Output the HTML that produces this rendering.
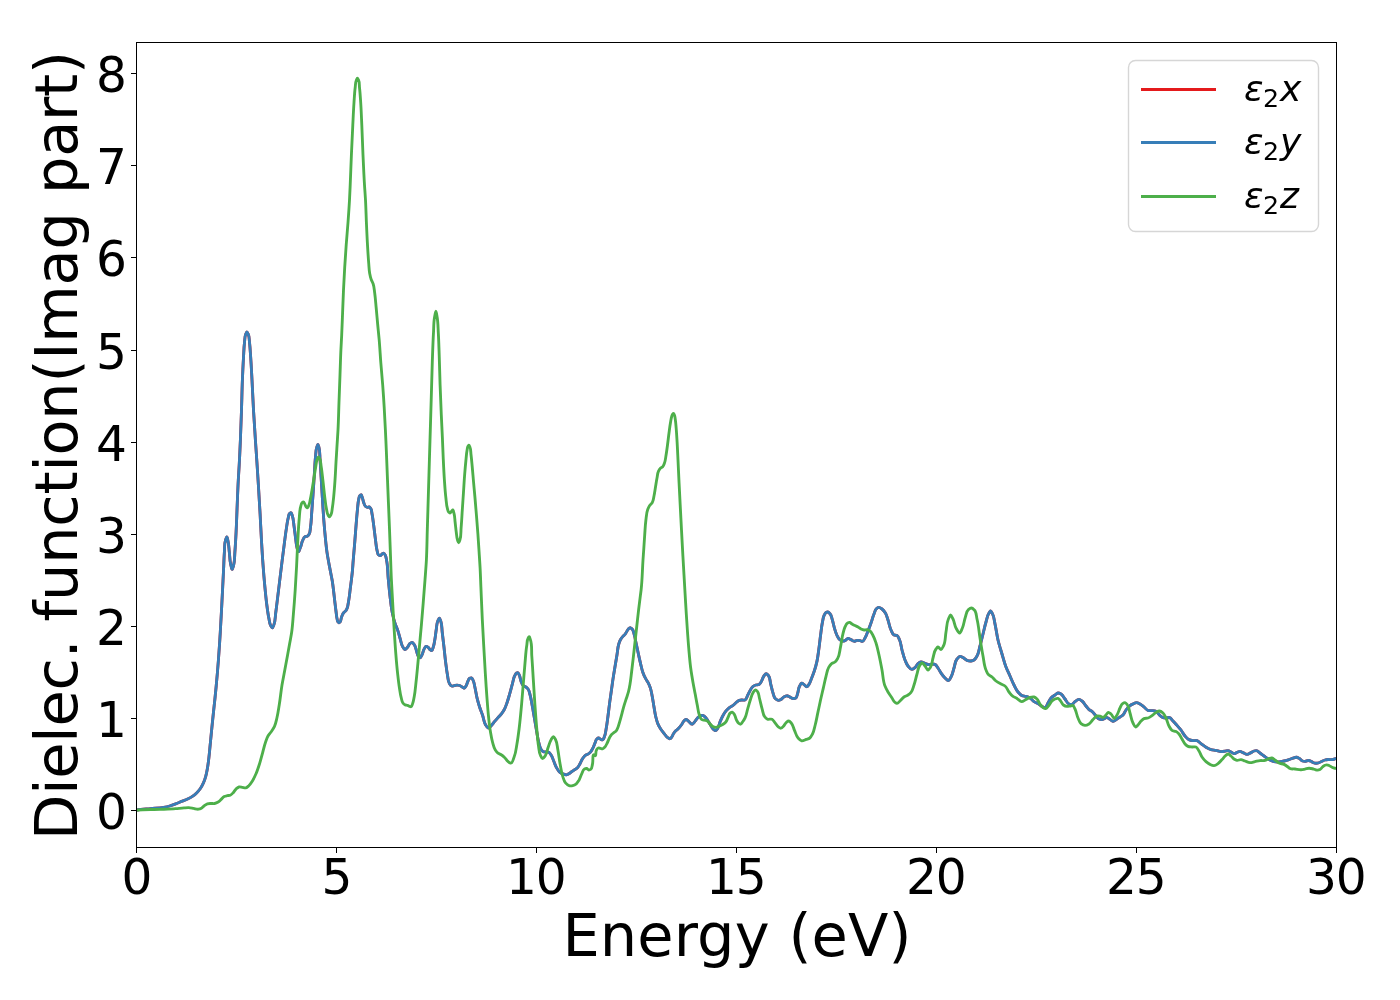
<!DOCTYPE html>
<html><head><meta charset="utf-8"><title>Dielectric function</title>
<style>
html,body{margin:0;padding:0;background:#fff;}
body{width:1400px;height:1000px;overflow:hidden;}
svg{display:block;}
text{font-family:'DejaVu Sans','Liberation Sans',sans-serif;fill:#000;}
.xt{font-size:48.6px;text-anchor:middle;}
.yt{font-size:48.6px;text-anchor:end;}
.lab{font-size:59.0px;text-anchor:middle;}
.leg{font-size:36.1px;}
.it{font-style:italic;}
.sub{font-size:25.3px;}
</style></head><body>
<svg width="1400" height="1000" viewBox="0 0 1400 1000">
<rect width="1400" height="1000" fill="#fff"/>
<defs><clipPath id="ax"><rect x="136.5" y="42.5" width="1200.0" height="805.0"/></clipPath></defs>
<g clip-path="url(#ax)" fill="none" stroke-width="2.85" stroke-linejoin="round" stroke-linecap="butt">
<path stroke="#e41a1c" d="M136.50,810.20C136.73,810.13 136.97,810.06 137.20,810.00C141.46,808.82 146.00,809.03 150.40,808.60C154.80,808.17 159.27,808.21 163.60,807.40C165.61,807.02 167.64,806.58 169.60,806.00C171.64,805.39 173.61,804.56 175.60,803.80C177.61,803.03 179.60,802.20 181.60,801.40C183.60,800.60 185.66,799.92 187.60,799.00C189.24,798.22 190.89,797.41 192.40,796.40C193.89,795.40 195.31,794.25 196.60,793.00C197.92,791.72 199.14,790.30 200.20,788.80C201.38,787.12 202.34,785.26 203.20,783.40C204.18,781.28 204.94,779.04 205.60,776.80C206.41,774.06 206.89,771.22 207.40,768.40C208.05,764.83 208.47,761.21 208.90,757.60C209.38,753.61 209.70,749.60 210.10,745.60C210.50,741.57 210.90,737.53 211.30,733.50C211.70,729.50 212.09,725.50 212.50,721.50C212.86,718.00 213.23,714.50 213.60,711.00C214.03,707.00 214.48,703.00 214.90,699.00C215.35,694.67 215.79,690.34 216.20,686.00C217.06,677.01 217.82,668.01 218.50,659.00C219.18,650.01 219.75,641.00 220.30,632.00C220.77,624.20 221.19,616.40 221.60,608.60C221.98,601.40 222.34,594.20 222.70,587.00C223.00,581.00 223.31,575.00 223.60,569.00C223.87,563.33 223.98,557.66 224.40,552.00C224.69,548.03 224.22,543.84 225.50,540.10C225.86,539.05 226.42,537.09 226.80,537.00C227.28,536.88 227.66,539.65 228.00,541.00C228.87,544.51 228.88,548.20 229.30,551.80C229.79,556.00 229.70,560.31 230.70,564.40C231.11,566.08 231.67,569.54 232.20,569.40C232.64,569.28 233.21,566.68 233.60,565.30C234.81,560.97 234.53,556.31 234.90,551.80C235.44,545.21 235.76,538.60 236.10,532.00C236.57,523.01 236.82,514.00 237.20,505.00C237.55,496.67 237.85,488.33 238.30,480.00C238.57,475.00 238.92,470.00 239.20,465.00C239.66,456.67 240.04,448.34 240.40,440.00C240.83,430.00 241.17,420.00 241.50,410.00C241.83,400.00 241.99,390.00 242.40,380.00C242.71,372.50 243.05,365.00 243.50,357.50C243.80,352.50 243.91,347.47 244.50,342.50C244.82,339.76 244.63,336.82 245.70,334.30C246.03,333.51 246.48,332.03 246.90,332.00C247.34,331.97 247.92,333.50 248.30,334.30C249.48,336.75 249.16,339.76 249.50,342.50C250.11,347.48 250.34,352.50 250.70,357.50C251.23,364.99 251.59,372.50 252.00,380.00C252.54,390.00 252.93,400.00 253.50,410.00C254.07,420.00 254.74,430.00 255.40,440.00C255.89,447.33 256.41,454.67 256.90,462.00C257.45,470.33 257.99,478.67 258.50,487.00C259.06,496.00 259.60,505.00 260.10,514.00C260.60,523.00 260.97,532.00 261.50,541.00C261.96,548.80 262.42,556.61 263.00,564.40C263.53,571.60 264.11,578.81 264.80,586.00C265.37,592.01 265.91,598.02 266.70,604.00C267.33,608.81 267.87,613.66 268.90,618.40C269.42,620.82 269.47,623.49 270.70,625.60C271.15,626.37 271.82,627.74 272.30,627.80C272.92,627.88 273.45,625.76 273.90,624.70C275.43,621.10 275.15,616.91 275.70,613.00C276.37,608.21 276.91,603.40 277.50,598.60C278.24,592.60 278.97,586.60 279.70,580.60C280.43,574.60 281.15,568.60 281.90,562.60C282.65,556.60 283.41,550.60 284.20,544.60C284.91,539.20 285.54,533.78 286.40,528.40C286.98,524.79 287.31,521.11 288.30,517.60C288.68,516.25 288.64,514.54 289.60,513.60C289.96,513.25 290.54,512.75 290.90,512.70C291.68,512.59 291.90,514.75 292.30,515.80C293.59,519.19 293.56,522.99 294.10,526.60C294.71,530.72 295.10,534.88 295.70,539.00C296.16,542.17 296.21,545.46 297.20,548.50C297.54,549.55 297.96,551.42 298.40,551.60C299.00,551.84 299.81,548.90 300.40,547.50C301.32,545.31 301.59,542.84 302.60,540.70C303.25,539.32 303.65,537.37 304.90,536.70C305.54,536.36 306.54,536.55 307.20,536.20C307.92,535.82 308.51,535.06 309.00,534.40C310.42,532.50 310.10,529.61 310.50,527.20C311.29,522.46 311.32,517.60 311.70,512.80C312.17,506.80 312.59,500.80 313.00,494.80C313.46,488.20 313.86,481.60 314.30,475.00C314.70,469.00 314.85,462.98 315.50,457.00C315.86,453.69 315.73,450.23 316.80,447.10C317.11,446.19 317.55,444.39 317.90,444.40C318.25,444.41 318.61,446.19 318.90,447.10C320.06,450.82 319.68,454.90 320.00,458.80C320.49,464.79 320.74,470.80 321.10,476.80C321.54,484.00 321.95,491.20 322.40,498.40C322.85,505.60 323.25,512.81 323.80,520.00C324.22,525.40 324.67,530.81 325.20,536.20C325.73,541.61 326.21,547.03 327.00,552.40C327.62,556.62 328.42,560.81 329.20,565.00C329.62,567.27 330.06,569.53 330.50,571.80C331.06,574.70 331.71,577.59 332.20,580.50C332.78,583.98 333.17,587.50 333.60,591.00C334.03,594.50 334.38,598.00 334.80,601.50C335.22,605.00 335.63,608.51 336.10,612.00C336.42,614.34 336.50,616.73 337.10,619.00C337.38,620.05 337.38,621.34 338.10,622.10C338.35,622.37 338.70,622.77 339.00,622.80C339.41,622.84 339.88,622.18 340.20,621.80C340.95,620.91 340.84,619.46 341.20,618.30C341.57,617.12 341.84,615.89 342.40,614.80C342.86,613.91 343.44,613.06 344.10,612.30C344.64,611.68 345.40,611.24 345.90,610.60C346.53,609.79 346.93,608.77 347.30,607.80C347.89,606.25 348.00,604.54 348.30,602.90C348.73,600.58 349.07,598.24 349.40,595.90C349.79,593.11 350.05,590.30 350.40,587.50C350.75,584.70 351.16,581.90 351.50,579.10C351.87,576.07 352.23,573.04 352.50,570.00C352.70,567.74 352.83,565.47 353.00,563.20C353.55,556.00 354.22,548.80 354.80,541.60C355.28,535.60 355.69,529.60 356.20,523.60C356.61,518.80 356.98,513.99 357.50,509.20C357.86,505.90 357.89,502.51 358.70,499.30C359.01,498.09 358.97,496.56 359.80,495.70C360.15,495.34 360.74,494.83 361.10,494.80C361.77,494.75 361.95,496.58 362.30,497.50C362.97,499.24 363.10,501.18 363.80,502.90C364.30,504.14 364.60,505.70 365.60,506.50C366.10,506.90 366.77,507.33 367.40,507.40C367.98,507.46 368.67,506.86 369.20,507.00C369.75,507.14 370.21,507.82 370.60,508.30C371.73,509.70 371.60,511.89 372.00,513.70C372.85,517.54 373.17,521.50 373.70,525.40C374.35,530.19 374.84,535.01 375.50,539.80C376.00,543.40 376.09,547.12 377.10,550.60C377.54,552.12 377.43,554.43 378.70,555.10C379.19,555.36 379.97,555.60 380.50,555.50C381.22,555.36 381.59,554.19 382.30,553.80C382.73,553.57 383.29,553.25 383.70,553.30C384.34,553.37 384.79,554.45 385.20,555.10C386.18,556.64 386.20,558.69 386.60,560.50C387.84,566.21 387.64,572.17 388.20,578.00C388.77,584.00 389.29,590.01 390.00,596.00C390.64,601.41 391.12,606.87 392.20,612.20C392.94,615.83 393.76,619.48 394.90,623.00C395.79,625.75 397.09,628.36 398.00,631.10C398.88,633.76 399.51,636.51 400.30,639.20C401.01,641.61 401.26,644.25 402.50,646.40C403.13,647.50 403.91,649.44 404.80,649.50C405.60,649.56 406.72,648.14 407.50,647.30C408.45,646.27 408.75,644.60 409.80,643.70C410.43,643.16 411.33,642.37 412.00,642.40C412.82,642.44 413.59,643.79 414.20,644.60C415.52,646.35 415.73,648.80 416.50,650.90C417.23,652.87 417.15,655.49 418.70,656.80C419.11,657.15 419.69,657.66 420.10,657.70C420.90,657.78 421.38,655.94 421.90,655.00C422.92,653.18 423.06,650.90 424.10,649.10C424.65,648.15 425.14,646.53 426.00,646.40C426.62,646.30 427.58,646.85 428.20,647.30C428.97,647.85 429.24,649.03 430.00,649.60C430.52,649.99 431.32,650.53 431.80,650.50C432.63,650.44 432.80,648.39 433.20,647.30C434.15,644.72 434.42,641.91 434.90,639.20C435.49,635.92 435.78,632.59 436.30,629.30C436.73,626.59 436.64,623.69 437.70,621.20C438.16,620.13 438.87,618.06 439.40,618.10C439.91,618.14 440.41,620.14 440.80,621.20C442.05,624.58 441.75,628.40 442.20,632.00C442.80,636.80 443.35,641.60 443.90,646.40C444.52,651.80 445.01,657.21 445.70,662.60C446.24,666.81 446.71,671.04 447.50,675.20C448.02,677.92 447.86,681.02 449.30,683.30C449.91,684.28 450.61,685.71 451.60,686.00C452.37,686.23 453.40,685.75 454.30,685.60C455.20,685.45 456.10,685.12 457.00,685.10C457.90,685.08 458.86,685.20 459.70,685.50C460.53,685.80 461.23,686.44 462.00,686.90C462.73,687.34 463.56,688.28 464.20,688.20C464.91,688.11 465.49,686.79 466.00,686.00C466.87,684.66 467.09,682.95 467.80,681.50C468.34,680.40 468.60,678.83 469.60,678.30C470.10,678.03 470.89,677.80 471.40,677.90C472.29,678.08 472.70,679.65 473.20,680.60C474.34,682.76 474.44,685.39 475.00,687.80C475.83,691.38 476.31,695.04 477.20,698.60C477.88,701.32 478.64,704.03 479.50,706.70C480.40,709.50 481.56,712.21 482.50,715.00C483.54,718.11 483.75,721.62 485.40,724.40C486.16,725.67 487.00,727.98 488.10,728.00C488.89,728.01 489.98,726.89 490.80,726.20C492.25,724.98 493.17,723.17 494.40,721.70C495.57,720.31 496.79,718.96 498.00,717.60C499.19,716.26 500.51,715.02 501.60,713.60C502.59,712.31 503.52,710.93 504.30,709.50C505.45,707.40 506.19,705.07 507.00,702.80C508.05,699.85 508.84,696.81 509.70,693.80C510.64,690.51 511.48,687.19 512.40,683.90C513.15,681.20 513.36,678.24 514.70,675.80C515.22,674.86 515.59,673.59 516.50,673.10C516.88,672.89 517.43,672.66 517.80,672.70C518.51,672.78 518.80,674.14 519.20,674.90C520.21,676.82 520.20,679.18 521.00,681.20C521.61,682.75 521.98,684.69 523.20,685.70C523.93,686.31 525.09,686.44 525.90,687.00C526.78,687.61 527.59,688.44 528.20,689.30C529.27,690.81 529.48,692.88 530.00,694.70C531.02,698.22 531.51,701.89 532.20,705.50C533.00,709.69 533.68,713.90 534.40,718.10C535.18,722.60 535.87,727.11 536.70,731.60C537.42,735.51 537.88,739.49 539.00,743.30C539.62,745.43 539.89,747.86 541.20,749.60C541.81,750.41 542.51,751.43 543.40,751.80C544.20,752.13 545.27,751.81 546.20,751.90C547.07,751.98 548.06,751.94 548.80,752.30C549.80,752.79 550.44,754.04 551.10,755.00C552.38,756.86 552.90,759.20 553.80,761.30C554.70,763.40 555.38,765.62 556.50,767.60C557.29,768.99 558.06,770.51 559.20,771.60C560.21,772.56 561.50,773.36 562.80,773.90C563.93,774.37 565.24,774.91 566.40,774.80C567.65,774.68 568.86,773.70 570.00,773.00C571.27,772.22 572.37,771.15 573.60,770.30C574.77,769.49 576.19,768.96 577.20,768.00C578.34,766.91 579.08,765.38 579.90,764.00C580.93,762.27 581.47,760.25 582.60,758.60C583.39,757.46 584.19,756.20 585.30,755.40C586.09,754.83 587.16,754.62 588.00,754.10C588.98,753.49 589.94,752.75 590.70,751.90C591.72,750.75 592.31,749.20 593.00,747.80C593.76,746.25 594.31,744.59 595.00,743.00C595.58,741.66 595.74,739.91 596.80,739.00C597.30,738.57 598.01,738.02 598.60,738.00C599.35,737.97 600.01,739.07 600.80,739.40C601.37,739.64 602.10,739.97 602.60,739.90C603.58,739.76 603.90,737.81 604.40,736.70C605.52,734.20 605.68,731.32 606.20,728.60C606.99,724.44 607.43,720.20 608.00,716.00C608.64,711.21 609.16,706.39 609.80,701.60C610.37,697.40 611.00,693.20 611.60,689.00C612.20,684.80 612.75,680.59 613.40,676.40C613.96,672.79 614.60,669.20 615.20,665.60C615.80,662.00 616.40,658.40 617.00,654.80C617.60,651.20 617.68,647.45 618.80,644.00C619.30,642.47 619.80,640.89 620.60,639.50C621.24,638.40 622.06,637.37 622.90,636.40C623.61,635.59 624.52,634.94 625.20,634.10C626.08,633.02 626.57,631.63 627.40,630.50C627.96,629.74 628.41,628.76 629.20,628.30C629.61,628.06 630.17,627.77 630.60,627.80C631.24,627.84 631.83,628.67 632.30,629.20C633.42,630.46 633.59,632.44 634.10,634.10C634.92,636.74 635.31,639.50 635.90,642.20C636.68,645.80 637.42,649.40 638.20,653.00C638.92,656.30 639.61,659.61 640.40,662.90C641.12,665.91 641.67,668.99 642.70,671.90C643.46,674.05 644.34,676.18 645.40,678.20C646.21,679.75 647.30,681.15 648.10,682.70C648.99,684.44 649.78,686.25 650.40,688.10C651.28,690.71 651.66,693.49 652.20,696.20C652.91,699.78 653.37,703.40 654.00,707.00C654.58,710.30 654.98,713.65 655.80,716.90C656.41,719.33 656.99,721.82 658.00,724.10C658.75,725.80 659.68,727.44 660.70,729.00C661.63,730.43 662.76,731.74 663.80,733.10C664.73,734.31 665.49,735.68 666.60,736.70C667.16,737.21 667.74,737.75 668.40,738.10C668.90,738.36 669.51,738.77 670.00,738.70C670.56,738.62 671.06,737.88 671.50,737.40C672.49,736.33 672.77,734.71 673.60,733.50C674.31,732.47 675.12,731.49 676.00,730.60C676.74,729.85 677.65,729.25 678.40,728.50C679.62,727.29 680.68,725.89 681.70,724.50C682.67,723.18 683.10,721.32 684.40,720.40C684.93,720.02 685.63,719.54 686.20,719.50C687.18,719.44 688.01,720.89 688.90,721.60C689.95,722.45 691.00,724.19 692.00,724.20C693.10,724.21 694.22,722.21 695.20,721.10C696.19,719.98 696.80,718.49 697.90,717.50C698.69,716.79 699.60,715.97 700.60,715.70C701.43,715.47 702.49,715.45 703.30,715.70C704.36,716.03 705.20,717.14 706.00,718.00C707.09,719.17 707.83,720.64 708.70,722.00C709.64,723.47 710.42,725.05 711.40,726.50C712.12,727.56 712.70,728.83 713.70,729.60C714.23,730.01 714.95,730.59 715.50,730.60C716.35,730.61 717.09,729.14 717.70,728.30C718.99,726.53 719.16,724.07 720.00,722.00C720.80,720.04 721.59,718.06 722.60,716.20C723.54,714.47 724.55,712.72 725.80,711.20C726.87,709.89 728.06,708.63 729.40,707.60C730.51,706.75 731.87,706.23 733.00,705.40C734.29,704.46 735.33,703.18 736.60,702.20C737.47,701.53 738.29,700.65 739.30,700.30C740.13,700.01 741.10,700.05 742.00,700.00C743.00,699.94 744.18,700.31 745.00,700.00C746.48,699.44 746.84,696.89 747.70,695.30C748.65,693.53 749.32,691.59 750.40,689.90C751.20,688.64 751.93,687.17 753.10,686.30C753.88,685.72 754.86,685.30 755.80,685.00C756.82,684.68 758.12,684.99 759.00,684.50C759.95,683.97 760.55,682.75 761.20,681.80C762.39,680.05 762.60,677.65 763.90,676.00C764.56,675.16 765.39,673.69 766.20,673.70C766.90,673.71 767.79,674.82 768.40,675.50C770.20,677.51 769.89,680.89 770.60,683.60C771.39,686.59 771.92,689.67 772.90,692.60C773.57,694.60 773.76,697.11 775.20,698.50C776.02,699.29 777.21,700.25 778.30,700.30C779.16,700.34 780.18,699.84 781.00,699.40C782.02,698.85 782.70,697.71 783.70,697.10C784.65,696.52 785.76,695.81 786.80,695.80C787.86,695.79 788.94,696.65 790.00,697.10C791.07,697.55 792.09,698.42 793.20,698.50C794.04,698.56 795.12,698.40 795.80,698.00C797.04,697.27 797.07,695.02 797.60,693.50C798.41,691.16 798.33,688.45 799.50,686.30C800.09,685.20 800.78,683.30 801.70,683.20C802.47,683.11 803.53,684.29 804.40,684.90C805.19,685.46 805.97,686.72 806.70,686.70C807.48,686.67 808.27,685.30 808.90,684.50C810.29,682.73 810.75,680.32 811.60,678.20C812.56,675.82 813.50,673.43 814.30,671.00C815.37,667.76 816.28,664.44 817.00,661.10C817.83,657.25 818.25,653.31 818.80,649.40C819.47,644.61 819.96,639.79 820.60,635.00C821.17,630.80 821.53,626.55 822.40,622.40C822.91,619.98 823.06,617.36 824.20,615.20C824.70,614.25 825.12,613.01 826.00,612.50C826.51,612.20 827.25,611.94 827.80,612.00C828.64,612.08 829.39,613.11 830.00,613.80C831.37,615.33 831.63,617.70 832.30,619.70C833.28,622.63 833.69,625.74 834.60,628.70C835.26,630.82 835.84,633.01 836.80,635.00C837.56,636.57 838.20,638.41 839.50,639.50C840.26,640.14 841.24,640.84 842.20,641.00C843.08,641.15 844.14,640.92 845.00,640.60C846.13,640.18 846.92,638.49 848.00,638.40C848.94,638.32 850.02,639.15 851.00,639.60C852.03,640.08 852.95,641.10 854.00,641.20C854.96,641.29 855.98,640.50 857.00,640.40C857.98,640.31 859.03,640.40 860.00,640.60C860.82,640.77 861.71,641.48 862.40,641.40C863.57,641.26 864.24,639.20 865.00,638.00C866.35,635.87 867.05,633.35 868.00,631.00C869.06,628.36 870.05,625.68 871.00,623.00C872.06,620.02 872.80,616.92 874.00,614.00C874.73,612.24 875.04,610.05 876.40,608.80C877.02,608.23 877.84,607.52 878.60,607.40C879.69,607.22 881.00,608.29 882.00,609.00C883.40,609.99 884.48,611.54 885.40,613.00C886.70,615.08 887.20,617.65 888.00,620.00C889.12,623.29 889.49,626.89 891.00,630.00C891.84,631.74 892.41,634.18 894.00,635.00C894.84,635.43 896.18,635.15 897.00,635.60C898.37,636.36 898.89,638.47 899.60,640.00C901.03,643.08 901.11,646.69 902.00,650.00C902.91,653.36 903.66,656.80 905.00,660.00C905.86,662.06 906.61,664.31 908.00,666.00C909.09,667.32 910.57,669.49 912.00,669.40C912.96,669.34 914.12,668.34 915.00,667.60C916.25,666.55 916.72,664.61 918.00,663.60C918.87,662.92 919.97,662.13 921.00,662.00C922.29,661.84 923.66,662.96 925.00,663.40C926.32,663.83 927.65,664.59 929.00,664.60C929.99,664.61 930.99,664.03 932.00,664.00C932.99,663.97 934.14,664.01 935.00,664.40C936.33,665.00 937.09,666.74 938.00,668.00C939.14,669.57 939.90,671.40 941.00,673.00C942.21,674.75 943.45,676.56 945.00,678.00C946.04,678.97 947.41,680.73 948.40,680.60C949.42,680.47 950.26,678.27 951.00,677.00C952.58,674.30 953.00,671.00 954.00,668.00C955.00,665.00 955.02,661.35 957.00,659.00C957.83,658.02 958.87,656.52 960.00,656.40C960.92,656.30 962.05,657.11 963.00,657.60C964.44,658.34 965.52,659.85 967.00,660.40C968.23,660.86 969.70,661.15 971.00,661.00C972.02,660.88 973.14,660.53 974.00,660.00C975.36,659.16 976.17,657.42 977.00,656.00C978.74,653.04 979.07,649.35 980.00,646.00C981.10,642.03 982.00,638.00 983.00,634.00C984.00,630.00 984.83,625.95 986.00,622.00C986.90,618.97 987.23,615.58 989.00,613.00C989.48,612.30 990.09,611.05 990.60,611.00C991.23,610.93 991.88,612.70 992.40,613.60C994.17,616.66 994.22,620.52 995.00,624.00C996.19,629.29 996.74,634.73 998.00,640.00C999.13,644.72 1000.62,649.35 1002.00,654.00C1003.29,658.35 1004.37,662.78 1006.00,667.00C1007.18,670.06 1008.67,673.00 1010.00,676.00C1011.33,679.00 1012.50,682.08 1014.00,685.00C1015.22,687.39 1016.27,689.99 1018.00,692.00C1019.16,693.34 1020.42,694.88 1022.00,695.60C1023.19,696.14 1024.70,696.02 1026.00,696.40C1027.37,696.80 1028.78,697.28 1030.00,698.00C1031.52,698.90 1032.52,700.62 1034.00,701.60C1035.23,702.42 1036.72,702.84 1038.00,703.60C1039.40,704.43 1040.56,705.66 1042.00,706.40C1042.95,706.89 1044.15,707.68 1045.00,707.60C1046.44,707.46 1047.03,704.55 1048.00,703.00C1049.03,701.35 1049.70,699.40 1051.00,698.00C1052.11,696.80 1053.64,695.96 1055.00,695.00C1055.98,694.31 1056.93,693.11 1058.00,693.00C1058.94,692.90 1060.11,693.50 1061.00,694.00C1062.80,695.00 1063.67,697.33 1065.00,699.00C1066.33,700.67 1067.14,703.27 1069.00,704.00C1069.88,704.34 1071.11,704.62 1072.00,704.40C1073.20,704.11 1073.91,702.40 1075.00,701.60C1076.22,700.71 1077.66,699.30 1079.00,699.40C1080.00,699.47 1081.10,700.34 1082.00,701.00C1083.69,702.23 1084.65,704.35 1086.00,706.00C1086.99,707.21 1087.81,708.63 1089.00,709.60C1089.89,710.33 1091.09,710.70 1092.00,711.40C1093.59,712.62 1094.61,714.52 1096.00,716.00C1096.97,717.03 1097.78,718.42 1099.00,719.00C1099.88,719.42 1101.03,719.68 1102.00,719.60C1103.03,719.51 1104.08,718.95 1105.00,718.40C1105.49,718.11 1105.92,717.55 1106.40,717.40C1107.54,717.03 1108.83,718.68 1110.00,719.40C1111.02,720.03 1111.99,721.29 1113.00,721.40C1114.31,721.54 1115.69,719.84 1117.00,719.00C1118.01,718.35 1119.00,717.67 1120.00,717.00C1121.00,716.33 1122.15,715.81 1123.00,715.00C1124.38,713.70 1124.85,711.55 1126.00,710.00C1127.18,708.42 1128.40,706.73 1130.00,705.60C1130.91,704.96 1131.98,704.48 1133.00,704.00C1134.11,703.48 1135.26,702.62 1136.40,702.60C1137.60,702.58 1138.87,703.40 1140.00,704.00C1141.46,704.78 1142.70,705.96 1144.00,707.00C1145.37,708.09 1146.43,709.86 1148.00,710.40C1149.20,710.81 1150.68,710.44 1152.00,710.60C1153.35,710.77 1154.83,710.84 1156.00,711.40C1157.66,712.20 1158.50,714.40 1160.00,715.60C1160.93,716.34 1161.90,717.21 1163.00,717.60C1163.93,717.93 1165.00,717.98 1166.00,718.00C1167.20,718.03 1168.55,717.31 1169.60,717.60C1171.00,717.99 1171.89,719.84 1173.00,721.00C1174.37,722.43 1175.68,723.92 1177.00,725.40C1178.35,726.92 1179.76,728.39 1181.00,730.00C1182.47,731.90 1183.41,734.22 1185.00,736.00C1186.19,737.33 1187.44,738.83 1189.00,739.60C1190.20,740.19 1191.65,740.44 1193.00,740.60C1194.31,740.76 1195.79,740.24 1197.00,740.60C1198.52,741.04 1199.66,742.61 1201.00,743.60C1202.65,744.82 1204.24,746.16 1206.00,747.20C1207.59,748.13 1209.25,749.07 1211.00,749.60C1212.60,750.09 1214.35,750.07 1216.00,750.40C1217.68,750.73 1219.31,751.52 1221.00,751.60C1222.32,751.66 1223.68,751.41 1225.00,751.20C1226.01,751.04 1227.04,750.50 1228.00,750.60C1229.04,750.71 1230.01,751.51 1231.00,752.00C1232.01,752.51 1232.97,753.56 1234.00,753.60C1234.98,753.64 1235.99,752.77 1237.00,752.40C1237.99,752.04 1239.01,751.37 1240.00,751.40C1241.01,751.43 1242.01,752.18 1243.00,752.60C1244.35,753.17 1245.67,754.40 1247.00,754.40C1248.33,754.40 1249.69,753.25 1251.00,752.60C1252.01,752.10 1252.93,751.33 1254.00,751.00C1254.76,750.76 1255.65,750.52 1256.40,750.60C1257.74,750.74 1258.82,752.17 1260.00,753.00C1261.36,753.96 1262.65,755.03 1264.00,756.00C1265.64,757.17 1267.24,758.44 1269.00,759.40C1270.59,760.27 1272.26,761.17 1274.00,761.60C1275.60,761.99 1277.35,762.10 1279.00,762.00C1280.68,761.90 1282.35,761.40 1284.00,761.00C1285.68,760.60 1287.36,760.15 1289.00,759.60C1289.33,759.49 1289.67,759.37 1290.00,759.25C1291.01,758.89 1291.98,758.42 1293.00,758.10C1294.14,757.74 1295.36,757.12 1296.50,757.25C1297.35,757.35 1298.21,757.83 1299.00,758.25C1300.30,758.94 1301.14,760.54 1302.50,761.00C1303.27,761.26 1304.17,761.36 1305.00,761.35C1306.18,761.33 1307.34,760.42 1308.50,760.50C1309.34,760.56 1310.21,760.91 1311.00,761.25C1311.88,761.63 1312.60,762.42 1313.50,762.75C1314.28,763.04 1315.16,763.22 1316.00,763.25C1317.00,763.28 1318.04,763.05 1319.00,762.75C1320.05,762.42 1320.98,761.71 1322.00,761.25C1322.98,760.80 1323.96,760.29 1325.00,760.00C1325.97,759.73 1326.99,759.57 1328.00,759.50C1329.16,759.42 1330.34,759.74 1331.50,759.65C1332.34,759.59 1333.18,759.45 1334.00,759.25C1334.85,759.04 1335.67,758.68 1336.50,758.40"/>
<path stroke="#377eb8" d="M136.50,810.20C136.73,810.13 136.97,810.06 137.20,810.00C141.46,808.82 146.00,809.03 150.40,808.60C154.80,808.17 159.27,808.21 163.60,807.40C165.61,807.02 167.64,806.58 169.60,806.00C171.64,805.39 173.61,804.56 175.60,803.80C177.61,803.03 179.60,802.20 181.60,801.40C183.60,800.60 185.66,799.92 187.60,799.00C189.24,798.22 190.89,797.41 192.40,796.40C193.89,795.40 195.31,794.25 196.60,793.00C197.92,791.72 199.14,790.30 200.20,788.80C201.38,787.12 202.34,785.26 203.20,783.40C204.18,781.28 204.94,779.04 205.60,776.80C206.41,774.06 206.89,771.22 207.40,768.40C208.05,764.83 208.47,761.21 208.90,757.60C209.38,753.61 209.70,749.60 210.10,745.60C210.50,741.57 210.90,737.53 211.30,733.50C211.70,729.50 212.09,725.50 212.50,721.50C212.86,718.00 213.23,714.50 213.60,711.00C214.03,707.00 214.48,703.00 214.90,699.00C215.35,694.67 215.79,690.34 216.20,686.00C217.06,677.01 217.82,668.01 218.50,659.00C219.18,650.01 219.75,641.00 220.30,632.00C220.77,624.20 221.19,616.40 221.60,608.60C221.98,601.40 222.34,594.20 222.70,587.00C223.00,581.00 223.31,575.00 223.60,569.00C223.87,563.33 223.98,557.66 224.40,552.00C224.69,548.03 224.22,543.84 225.50,540.10C225.86,539.05 226.42,537.09 226.80,537.00C227.28,536.88 227.66,539.65 228.00,541.00C228.87,544.51 228.88,548.20 229.30,551.80C229.79,556.00 229.70,560.31 230.70,564.40C231.11,566.08 231.67,569.54 232.20,569.40C232.64,569.28 233.21,566.68 233.60,565.30C234.81,560.97 234.53,556.31 234.90,551.80C235.44,545.21 235.76,538.60 236.10,532.00C236.57,523.01 236.82,514.00 237.20,505.00C237.55,496.67 237.85,488.33 238.30,480.00C238.57,475.00 238.92,470.00 239.20,465.00C239.66,456.67 240.04,448.34 240.40,440.00C240.83,430.00 241.17,420.00 241.50,410.00C241.83,400.00 241.99,390.00 242.40,380.00C242.71,372.50 243.05,365.00 243.50,357.50C243.80,352.50 243.91,347.47 244.50,342.50C244.82,339.76 244.63,336.82 245.70,334.30C246.03,333.51 246.48,332.03 246.90,332.00C247.34,331.97 247.92,333.50 248.30,334.30C249.48,336.75 249.16,339.76 249.50,342.50C250.11,347.48 250.34,352.50 250.70,357.50C251.23,364.99 251.59,372.50 252.00,380.00C252.54,390.00 252.93,400.00 253.50,410.00C254.07,420.00 254.74,430.00 255.40,440.00C255.89,447.33 256.41,454.67 256.90,462.00C257.45,470.33 257.99,478.67 258.50,487.00C259.06,496.00 259.60,505.00 260.10,514.00C260.60,523.00 260.97,532.00 261.50,541.00C261.96,548.80 262.42,556.61 263.00,564.40C263.53,571.60 264.11,578.81 264.80,586.00C265.37,592.01 265.91,598.02 266.70,604.00C267.33,608.81 267.87,613.66 268.90,618.40C269.42,620.82 269.47,623.49 270.70,625.60C271.15,626.37 271.82,627.74 272.30,627.80C272.92,627.88 273.45,625.76 273.90,624.70C275.43,621.10 275.15,616.91 275.70,613.00C276.37,608.21 276.91,603.40 277.50,598.60C278.24,592.60 278.97,586.60 279.70,580.60C280.43,574.60 281.15,568.60 281.90,562.60C282.65,556.60 283.41,550.60 284.20,544.60C284.91,539.20 285.54,533.78 286.40,528.40C286.98,524.79 287.31,521.11 288.30,517.60C288.68,516.25 288.64,514.54 289.60,513.60C289.96,513.25 290.54,512.75 290.90,512.70C291.68,512.59 291.90,514.75 292.30,515.80C293.59,519.19 293.56,522.99 294.10,526.60C294.71,530.72 295.10,534.88 295.70,539.00C296.16,542.17 296.21,545.46 297.20,548.50C297.54,549.55 297.96,551.42 298.40,551.60C299.00,551.84 299.81,548.90 300.40,547.50C301.32,545.31 301.59,542.84 302.60,540.70C303.25,539.32 303.65,537.37 304.90,536.70C305.54,536.36 306.54,536.55 307.20,536.20C307.92,535.82 308.51,535.06 309.00,534.40C310.42,532.50 310.10,529.61 310.50,527.20C311.29,522.46 311.32,517.60 311.70,512.80C312.17,506.80 312.59,500.80 313.00,494.80C313.46,488.20 313.86,481.60 314.30,475.00C314.70,469.00 314.85,462.98 315.50,457.00C315.86,453.69 315.73,450.23 316.80,447.10C317.11,446.19 317.55,444.39 317.90,444.40C318.25,444.41 318.61,446.19 318.90,447.10C320.06,450.82 319.68,454.90 320.00,458.80C320.49,464.79 320.74,470.80 321.10,476.80C321.54,484.00 321.95,491.20 322.40,498.40C322.85,505.60 323.25,512.81 323.80,520.00C324.22,525.40 324.67,530.81 325.20,536.20C325.73,541.61 326.21,547.03 327.00,552.40C327.62,556.62 328.42,560.81 329.20,565.00C329.62,567.27 330.06,569.53 330.50,571.80C331.06,574.70 331.71,577.59 332.20,580.50C332.78,583.98 333.17,587.50 333.60,591.00C334.03,594.50 334.38,598.00 334.80,601.50C335.22,605.00 335.63,608.51 336.10,612.00C336.42,614.34 336.50,616.73 337.10,619.00C337.38,620.05 337.38,621.34 338.10,622.10C338.35,622.37 338.70,622.77 339.00,622.80C339.41,622.84 339.88,622.18 340.20,621.80C340.95,620.91 340.84,619.46 341.20,618.30C341.57,617.12 341.84,615.89 342.40,614.80C342.86,613.91 343.44,613.06 344.10,612.30C344.64,611.68 345.40,611.24 345.90,610.60C346.53,609.79 346.93,608.77 347.30,607.80C347.89,606.25 348.00,604.54 348.30,602.90C348.73,600.58 349.07,598.24 349.40,595.90C349.79,593.11 350.05,590.30 350.40,587.50C350.75,584.70 351.16,581.90 351.50,579.10C351.87,576.07 352.23,573.04 352.50,570.00C352.70,567.74 352.83,565.47 353.00,563.20C353.55,556.00 354.22,548.80 354.80,541.60C355.28,535.60 355.69,529.60 356.20,523.60C356.61,518.80 356.98,513.99 357.50,509.20C357.86,505.90 357.89,502.51 358.70,499.30C359.01,498.09 358.97,496.56 359.80,495.70C360.15,495.34 360.74,494.83 361.10,494.80C361.77,494.75 361.95,496.58 362.30,497.50C362.97,499.24 363.10,501.18 363.80,502.90C364.30,504.14 364.60,505.70 365.60,506.50C366.10,506.90 366.77,507.33 367.40,507.40C367.98,507.46 368.67,506.86 369.20,507.00C369.75,507.14 370.21,507.82 370.60,508.30C371.73,509.70 371.60,511.89 372.00,513.70C372.85,517.54 373.17,521.50 373.70,525.40C374.35,530.19 374.84,535.01 375.50,539.80C376.00,543.40 376.09,547.12 377.10,550.60C377.54,552.12 377.43,554.43 378.70,555.10C379.19,555.36 379.97,555.60 380.50,555.50C381.22,555.36 381.59,554.19 382.30,553.80C382.73,553.57 383.29,553.25 383.70,553.30C384.34,553.37 384.79,554.45 385.20,555.10C386.18,556.64 386.20,558.69 386.60,560.50C387.84,566.21 387.64,572.17 388.20,578.00C388.77,584.00 389.29,590.01 390.00,596.00C390.64,601.41 391.12,606.87 392.20,612.20C392.94,615.83 393.76,619.48 394.90,623.00C395.79,625.75 397.09,628.36 398.00,631.10C398.88,633.76 399.51,636.51 400.30,639.20C401.01,641.61 401.26,644.25 402.50,646.40C403.13,647.50 403.91,649.44 404.80,649.50C405.60,649.56 406.72,648.14 407.50,647.30C408.45,646.27 408.75,644.60 409.80,643.70C410.43,643.16 411.33,642.37 412.00,642.40C412.82,642.44 413.59,643.79 414.20,644.60C415.52,646.35 415.73,648.80 416.50,650.90C417.23,652.87 417.15,655.49 418.70,656.80C419.11,657.15 419.69,657.66 420.10,657.70C420.90,657.78 421.38,655.94 421.90,655.00C422.92,653.18 423.06,650.90 424.10,649.10C424.65,648.15 425.14,646.53 426.00,646.40C426.62,646.30 427.58,646.85 428.20,647.30C428.97,647.85 429.24,649.03 430.00,649.60C430.52,649.99 431.32,650.53 431.80,650.50C432.63,650.44 432.80,648.39 433.20,647.30C434.15,644.72 434.42,641.91 434.90,639.20C435.49,635.92 435.78,632.59 436.30,629.30C436.73,626.59 436.64,623.69 437.70,621.20C438.16,620.13 438.87,618.06 439.40,618.10C439.91,618.14 440.41,620.14 440.80,621.20C442.05,624.58 441.75,628.40 442.20,632.00C442.80,636.80 443.35,641.60 443.90,646.40C444.52,651.80 445.01,657.21 445.70,662.60C446.24,666.81 446.71,671.04 447.50,675.20C448.02,677.92 447.86,681.02 449.30,683.30C449.91,684.28 450.61,685.71 451.60,686.00C452.37,686.23 453.40,685.75 454.30,685.60C455.20,685.45 456.10,685.12 457.00,685.10C457.90,685.08 458.86,685.20 459.70,685.50C460.53,685.80 461.23,686.44 462.00,686.90C462.73,687.34 463.56,688.28 464.20,688.20C464.91,688.11 465.49,686.79 466.00,686.00C466.87,684.66 467.09,682.95 467.80,681.50C468.34,680.40 468.60,678.83 469.60,678.30C470.10,678.03 470.89,677.80 471.40,677.90C472.29,678.08 472.70,679.65 473.20,680.60C474.34,682.76 474.44,685.39 475.00,687.80C475.83,691.38 476.31,695.04 477.20,698.60C477.88,701.32 478.64,704.03 479.50,706.70C480.40,709.50 481.56,712.21 482.50,715.00C483.54,718.11 483.75,721.62 485.40,724.40C486.16,725.67 487.00,727.98 488.10,728.00C488.89,728.01 489.98,726.89 490.80,726.20C492.25,724.98 493.17,723.17 494.40,721.70C495.57,720.31 496.79,718.96 498.00,717.60C499.19,716.26 500.51,715.02 501.60,713.60C502.59,712.31 503.52,710.93 504.30,709.50C505.45,707.40 506.19,705.07 507.00,702.80C508.05,699.85 508.84,696.81 509.70,693.80C510.64,690.51 511.48,687.19 512.40,683.90C513.15,681.20 513.36,678.24 514.70,675.80C515.22,674.86 515.59,673.59 516.50,673.10C516.88,672.89 517.43,672.66 517.80,672.70C518.51,672.78 518.80,674.14 519.20,674.90C520.21,676.82 520.20,679.18 521.00,681.20C521.61,682.75 521.98,684.69 523.20,685.70C523.93,686.31 525.09,686.44 525.90,687.00C526.78,687.61 527.59,688.44 528.20,689.30C529.27,690.81 529.48,692.88 530.00,694.70C531.02,698.22 531.51,701.89 532.20,705.50C533.00,709.69 533.68,713.90 534.40,718.10C535.18,722.60 535.87,727.11 536.70,731.60C537.42,735.51 537.88,739.49 539.00,743.30C539.62,745.43 539.89,747.86 541.20,749.60C541.81,750.41 542.51,751.43 543.40,751.80C544.20,752.13 545.27,751.81 546.20,751.90C547.07,751.98 548.06,751.94 548.80,752.30C549.80,752.79 550.44,754.04 551.10,755.00C552.38,756.86 552.90,759.20 553.80,761.30C554.70,763.40 555.38,765.62 556.50,767.60C557.29,768.99 558.06,770.51 559.20,771.60C560.21,772.56 561.50,773.36 562.80,773.90C563.93,774.37 565.24,774.91 566.40,774.80C567.65,774.68 568.86,773.70 570.00,773.00C571.27,772.22 572.37,771.15 573.60,770.30C574.77,769.49 576.19,768.96 577.20,768.00C578.34,766.91 579.08,765.38 579.90,764.00C580.93,762.27 581.47,760.25 582.60,758.60C583.39,757.46 584.19,756.20 585.30,755.40C586.09,754.83 587.16,754.62 588.00,754.10C588.98,753.49 589.94,752.75 590.70,751.90C591.72,750.75 592.31,749.20 593.00,747.80C593.76,746.25 594.31,744.59 595.00,743.00C595.58,741.66 595.74,739.91 596.80,739.00C597.30,738.57 598.01,738.02 598.60,738.00C599.35,737.97 600.01,739.07 600.80,739.40C601.37,739.64 602.10,739.97 602.60,739.90C603.58,739.76 603.90,737.81 604.40,736.70C605.52,734.20 605.68,731.32 606.20,728.60C606.99,724.44 607.43,720.20 608.00,716.00C608.64,711.21 609.16,706.39 609.80,701.60C610.37,697.40 611.00,693.20 611.60,689.00C612.20,684.80 612.75,680.59 613.40,676.40C613.96,672.79 614.60,669.20 615.20,665.60C615.80,662.00 616.40,658.40 617.00,654.80C617.60,651.20 617.68,647.45 618.80,644.00C619.30,642.47 619.80,640.89 620.60,639.50C621.24,638.40 622.06,637.37 622.90,636.40C623.61,635.59 624.52,634.94 625.20,634.10C626.08,633.02 626.57,631.63 627.40,630.50C627.96,629.74 628.41,628.76 629.20,628.30C629.61,628.06 630.17,627.77 630.60,627.80C631.24,627.84 631.83,628.67 632.30,629.20C633.42,630.46 633.59,632.44 634.10,634.10C634.92,636.74 635.31,639.50 635.90,642.20C636.68,645.80 637.42,649.40 638.20,653.00C638.92,656.30 639.61,659.61 640.40,662.90C641.12,665.91 641.67,668.99 642.70,671.90C643.46,674.05 644.34,676.18 645.40,678.20C646.21,679.75 647.30,681.15 648.10,682.70C648.99,684.44 649.78,686.25 650.40,688.10C651.28,690.71 651.66,693.49 652.20,696.20C652.91,699.78 653.37,703.40 654.00,707.00C654.58,710.30 654.98,713.65 655.80,716.90C656.41,719.33 656.99,721.82 658.00,724.10C658.75,725.80 659.68,727.44 660.70,729.00C661.63,730.43 662.76,731.74 663.80,733.10C664.73,734.31 665.49,735.68 666.60,736.70C667.16,737.21 667.74,737.75 668.40,738.10C668.90,738.36 669.51,738.77 670.00,738.70C670.56,738.62 671.06,737.88 671.50,737.40C672.49,736.33 672.77,734.71 673.60,733.50C674.31,732.47 675.12,731.49 676.00,730.60C676.74,729.85 677.65,729.25 678.40,728.50C679.62,727.29 680.68,725.89 681.70,724.50C682.67,723.18 683.10,721.32 684.40,720.40C684.93,720.02 685.63,719.54 686.20,719.50C687.18,719.44 688.01,720.89 688.90,721.60C689.95,722.45 691.00,724.19 692.00,724.20C693.10,724.21 694.22,722.21 695.20,721.10C696.19,719.98 696.80,718.49 697.90,717.50C698.69,716.79 699.60,715.97 700.60,715.70C701.43,715.47 702.49,715.45 703.30,715.70C704.36,716.03 705.20,717.14 706.00,718.00C707.09,719.17 707.83,720.64 708.70,722.00C709.64,723.47 710.42,725.05 711.40,726.50C712.12,727.56 712.70,728.83 713.70,729.60C714.23,730.01 714.95,730.59 715.50,730.60C716.35,730.61 717.09,729.14 717.70,728.30C718.99,726.53 719.16,724.07 720.00,722.00C720.80,720.04 721.59,718.06 722.60,716.20C723.54,714.47 724.55,712.72 725.80,711.20C726.87,709.89 728.06,708.63 729.40,707.60C730.51,706.75 731.87,706.23 733.00,705.40C734.29,704.46 735.33,703.18 736.60,702.20C737.47,701.53 738.29,700.65 739.30,700.30C740.13,700.01 741.10,700.05 742.00,700.00C743.00,699.94 744.18,700.31 745.00,700.00C746.48,699.44 746.84,696.89 747.70,695.30C748.65,693.53 749.32,691.59 750.40,689.90C751.20,688.64 751.93,687.17 753.10,686.30C753.88,685.72 754.86,685.30 755.80,685.00C756.82,684.68 758.12,684.99 759.00,684.50C759.95,683.97 760.55,682.75 761.20,681.80C762.39,680.05 762.60,677.65 763.90,676.00C764.56,675.16 765.39,673.69 766.20,673.70C766.90,673.71 767.79,674.82 768.40,675.50C770.20,677.51 769.89,680.89 770.60,683.60C771.39,686.59 771.92,689.67 772.90,692.60C773.57,694.60 773.76,697.11 775.20,698.50C776.02,699.29 777.21,700.25 778.30,700.30C779.16,700.34 780.18,699.84 781.00,699.40C782.02,698.85 782.70,697.71 783.70,697.10C784.65,696.52 785.76,695.81 786.80,695.80C787.86,695.79 788.94,696.65 790.00,697.10C791.07,697.55 792.09,698.42 793.20,698.50C794.04,698.56 795.12,698.40 795.80,698.00C797.04,697.27 797.07,695.02 797.60,693.50C798.41,691.16 798.33,688.45 799.50,686.30C800.09,685.20 800.78,683.30 801.70,683.20C802.47,683.11 803.53,684.29 804.40,684.90C805.19,685.46 805.97,686.72 806.70,686.70C807.48,686.67 808.27,685.30 808.90,684.50C810.29,682.73 810.75,680.32 811.60,678.20C812.56,675.82 813.50,673.43 814.30,671.00C815.37,667.76 816.28,664.44 817.00,661.10C817.83,657.25 818.25,653.31 818.80,649.40C819.47,644.61 819.96,639.79 820.60,635.00C821.17,630.80 821.53,626.55 822.40,622.40C822.91,619.98 823.06,617.36 824.20,615.20C824.70,614.25 825.12,613.01 826.00,612.50C826.51,612.20 827.25,611.94 827.80,612.00C828.64,612.08 829.39,613.11 830.00,613.80C831.37,615.33 831.63,617.70 832.30,619.70C833.28,622.63 833.69,625.74 834.60,628.70C835.26,630.82 835.84,633.01 836.80,635.00C837.56,636.57 838.20,638.41 839.50,639.50C840.26,640.14 841.24,640.84 842.20,641.00C843.08,641.15 844.14,640.92 845.00,640.60C846.13,640.18 846.92,638.49 848.00,638.40C848.94,638.32 850.02,639.15 851.00,639.60C852.03,640.08 852.95,641.10 854.00,641.20C854.96,641.29 855.98,640.50 857.00,640.40C857.98,640.31 859.03,640.40 860.00,640.60C860.82,640.77 861.71,641.48 862.40,641.40C863.57,641.26 864.24,639.20 865.00,638.00C866.35,635.87 867.05,633.35 868.00,631.00C869.06,628.36 870.05,625.68 871.00,623.00C872.06,620.02 872.80,616.92 874.00,614.00C874.73,612.24 875.04,610.05 876.40,608.80C877.02,608.23 877.84,607.52 878.60,607.40C879.69,607.22 881.00,608.29 882.00,609.00C883.40,609.99 884.48,611.54 885.40,613.00C886.70,615.08 887.20,617.65 888.00,620.00C889.12,623.29 889.49,626.89 891.00,630.00C891.84,631.74 892.41,634.18 894.00,635.00C894.84,635.43 896.18,635.15 897.00,635.60C898.37,636.36 898.89,638.47 899.60,640.00C901.03,643.08 901.11,646.69 902.00,650.00C902.91,653.36 903.66,656.80 905.00,660.00C905.86,662.06 906.61,664.31 908.00,666.00C909.09,667.32 910.57,669.49 912.00,669.40C912.96,669.34 914.12,668.34 915.00,667.60C916.25,666.55 916.72,664.61 918.00,663.60C918.87,662.92 919.97,662.13 921.00,662.00C922.29,661.84 923.66,662.96 925.00,663.40C926.32,663.83 927.65,664.59 929.00,664.60C929.99,664.61 930.99,664.03 932.00,664.00C932.99,663.97 934.14,664.01 935.00,664.40C936.33,665.00 937.09,666.74 938.00,668.00C939.14,669.57 939.90,671.40 941.00,673.00C942.21,674.75 943.45,676.56 945.00,678.00C946.04,678.97 947.41,680.73 948.40,680.60C949.42,680.47 950.26,678.27 951.00,677.00C952.58,674.30 953.00,671.00 954.00,668.00C955.00,665.00 955.02,661.35 957.00,659.00C957.83,658.02 958.87,656.52 960.00,656.40C960.92,656.30 962.05,657.11 963.00,657.60C964.44,658.34 965.52,659.85 967.00,660.40C968.23,660.86 969.70,661.15 971.00,661.00C972.02,660.88 973.14,660.53 974.00,660.00C975.36,659.16 976.17,657.42 977.00,656.00C978.74,653.04 979.07,649.35 980.00,646.00C981.10,642.03 982.00,638.00 983.00,634.00C984.00,630.00 984.83,625.95 986.00,622.00C986.90,618.97 987.23,615.58 989.00,613.00C989.48,612.30 990.09,611.05 990.60,611.00C991.23,610.93 991.88,612.70 992.40,613.60C994.17,616.66 994.22,620.52 995.00,624.00C996.19,629.29 996.74,634.73 998.00,640.00C999.13,644.72 1000.62,649.35 1002.00,654.00C1003.29,658.35 1004.37,662.78 1006.00,667.00C1007.18,670.06 1008.67,673.00 1010.00,676.00C1011.33,679.00 1012.50,682.08 1014.00,685.00C1015.22,687.39 1016.27,689.99 1018.00,692.00C1019.16,693.34 1020.42,694.88 1022.00,695.60C1023.19,696.14 1024.70,696.02 1026.00,696.40C1027.37,696.80 1028.78,697.28 1030.00,698.00C1031.52,698.90 1032.52,700.62 1034.00,701.60C1035.23,702.42 1036.72,702.84 1038.00,703.60C1039.40,704.43 1040.56,705.66 1042.00,706.40C1042.95,706.89 1044.15,707.68 1045.00,707.60C1046.44,707.46 1047.03,704.55 1048.00,703.00C1049.03,701.35 1049.70,699.40 1051.00,698.00C1052.11,696.80 1053.64,695.96 1055.00,695.00C1055.98,694.31 1056.93,693.11 1058.00,693.00C1058.94,692.90 1060.11,693.50 1061.00,694.00C1062.80,695.00 1063.67,697.33 1065.00,699.00C1066.33,700.67 1067.14,703.27 1069.00,704.00C1069.88,704.34 1071.11,704.62 1072.00,704.40C1073.20,704.11 1073.91,702.40 1075.00,701.60C1076.22,700.71 1077.66,699.30 1079.00,699.40C1080.00,699.47 1081.10,700.34 1082.00,701.00C1083.69,702.23 1084.65,704.35 1086.00,706.00C1086.99,707.21 1087.81,708.63 1089.00,709.60C1089.89,710.33 1091.09,710.70 1092.00,711.40C1093.59,712.62 1094.61,714.52 1096.00,716.00C1096.97,717.03 1097.78,718.42 1099.00,719.00C1099.88,719.42 1101.03,719.68 1102.00,719.60C1103.03,719.51 1104.08,718.95 1105.00,718.40C1105.49,718.11 1105.92,717.55 1106.40,717.40C1107.54,717.03 1108.83,718.68 1110.00,719.40C1111.02,720.03 1111.99,721.29 1113.00,721.40C1114.31,721.54 1115.69,719.84 1117.00,719.00C1118.01,718.35 1119.00,717.67 1120.00,717.00C1121.00,716.33 1122.15,715.81 1123.00,715.00C1124.38,713.70 1124.85,711.55 1126.00,710.00C1127.18,708.42 1128.40,706.73 1130.00,705.60C1130.91,704.96 1131.98,704.48 1133.00,704.00C1134.11,703.48 1135.26,702.62 1136.40,702.60C1137.60,702.58 1138.87,703.40 1140.00,704.00C1141.46,704.78 1142.70,705.96 1144.00,707.00C1145.37,708.09 1146.43,709.86 1148.00,710.40C1149.20,710.81 1150.68,710.44 1152.00,710.60C1153.35,710.77 1154.83,710.84 1156.00,711.40C1157.66,712.20 1158.50,714.40 1160.00,715.60C1160.93,716.34 1161.90,717.21 1163.00,717.60C1163.93,717.93 1165.00,717.98 1166.00,718.00C1167.20,718.03 1168.55,717.31 1169.60,717.60C1171.00,717.99 1171.89,719.84 1173.00,721.00C1174.37,722.43 1175.68,723.92 1177.00,725.40C1178.35,726.92 1179.76,728.39 1181.00,730.00C1182.47,731.90 1183.41,734.22 1185.00,736.00C1186.19,737.33 1187.44,738.83 1189.00,739.60C1190.20,740.19 1191.65,740.44 1193.00,740.60C1194.31,740.76 1195.79,740.24 1197.00,740.60C1198.52,741.04 1199.66,742.61 1201.00,743.60C1202.65,744.82 1204.24,746.16 1206.00,747.20C1207.59,748.13 1209.25,749.07 1211.00,749.60C1212.60,750.09 1214.35,750.07 1216.00,750.40C1217.68,750.73 1219.31,751.52 1221.00,751.60C1222.32,751.66 1223.68,751.41 1225.00,751.20C1226.01,751.04 1227.04,750.50 1228.00,750.60C1229.04,750.71 1230.01,751.51 1231.00,752.00C1232.01,752.51 1232.97,753.56 1234.00,753.60C1234.98,753.64 1235.99,752.77 1237.00,752.40C1237.99,752.04 1239.01,751.37 1240.00,751.40C1241.01,751.43 1242.01,752.18 1243.00,752.60C1244.35,753.17 1245.67,754.40 1247.00,754.40C1248.33,754.40 1249.69,753.25 1251.00,752.60C1252.01,752.10 1252.93,751.33 1254.00,751.00C1254.76,750.76 1255.65,750.52 1256.40,750.60C1257.74,750.74 1258.82,752.17 1260.00,753.00C1261.36,753.96 1262.65,755.03 1264.00,756.00C1265.64,757.17 1267.24,758.44 1269.00,759.40C1270.59,760.27 1272.26,761.17 1274.00,761.60C1275.60,761.99 1277.35,762.10 1279.00,762.00C1280.68,761.90 1282.35,761.40 1284.00,761.00C1285.68,760.60 1287.36,760.15 1289.00,759.60C1289.33,759.49 1289.67,759.37 1290.00,759.25C1291.01,758.89 1291.98,758.42 1293.00,758.10C1294.14,757.74 1295.36,757.12 1296.50,757.25C1297.35,757.35 1298.21,757.83 1299.00,758.25C1300.30,758.94 1301.14,760.54 1302.50,761.00C1303.27,761.26 1304.17,761.36 1305.00,761.35C1306.18,761.33 1307.34,760.42 1308.50,760.50C1309.34,760.56 1310.21,760.91 1311.00,761.25C1311.88,761.63 1312.60,762.42 1313.50,762.75C1314.28,763.04 1315.16,763.22 1316.00,763.25C1317.00,763.28 1318.04,763.05 1319.00,762.75C1320.05,762.42 1320.98,761.71 1322.00,761.25C1322.98,760.80 1323.96,760.29 1325.00,760.00C1325.97,759.73 1326.99,759.57 1328.00,759.50C1329.16,759.42 1330.34,759.74 1331.50,759.65C1332.34,759.59 1333.18,759.45 1334.00,759.25C1334.85,759.04 1335.67,758.68 1336.50,758.40"/>
<path stroke="#4daf4a" d="M136.50,810.20C136.73,810.17 136.97,810.13 137.20,810.10C144.73,809.05 152.40,809.70 160.00,809.40C165.20,809.20 170.41,809.10 175.60,808.70C178.40,808.48 181.19,808.07 184.00,807.90C185.60,807.80 187.21,807.62 188.80,807.70C190.41,807.78 192.00,808.15 193.60,808.40C195.20,808.65 196.83,809.38 198.40,809.20C199.41,809.08 200.50,808.77 201.40,808.30C202.56,807.69 203.32,806.39 204.40,805.60C205.34,804.92 206.32,804.15 207.40,803.80C208.51,803.44 209.80,803.55 211.00,803.50C212.20,803.45 213.44,803.72 214.60,803.50C215.85,803.26 217.11,802.67 218.20,802.00C219.31,801.31 220.22,800.28 221.20,799.40C222.22,798.49 223.02,797.23 224.20,796.60C225.10,796.12 226.18,795.93 227.20,795.70C228.19,795.47 229.30,795.58 230.20,795.20C231.36,794.71 232.29,793.62 233.20,792.70C234.34,791.54 234.97,789.85 236.20,788.80C237.03,788.09 237.98,787.24 239.00,787.00C239.99,786.77 241.14,787.16 242.20,787.30C243.41,787.45 244.70,788.15 245.80,787.90C246.90,787.65 247.90,786.60 248.80,785.80C250.27,784.48 251.33,782.68 252.40,781.00C253.83,778.75 254.93,776.26 256.00,773.80C257.44,770.50 258.52,767.04 259.60,763.60C260.72,760.04 261.60,756.40 262.60,752.80C263.60,749.20 264.35,745.52 265.60,742.00C266.32,739.97 266.93,737.85 268.00,736.00C268.93,734.39 270.34,733.05 271.40,731.50C272.52,729.86 273.66,728.19 274.50,726.40C275.72,723.79 276.21,720.83 276.90,718.00C277.98,713.56 278.57,709.01 279.30,704.50C280.35,698.02 280.93,691.47 282.00,685.00C282.83,679.98 283.87,675.00 284.80,670.00C285.70,665.13 286.61,660.27 287.50,655.40C288.27,651.20 289.05,647.00 289.80,642.80C290.44,639.20 291.18,635.61 291.70,632.00C292.56,626.04 292.88,620.00 293.40,614.00C294.09,606.01 294.67,598.00 295.20,590.00C295.73,582.00 296.17,574.00 296.60,566.00C297.04,557.67 297.33,549.33 297.80,541.00C298.21,533.66 298.48,526.31 299.20,519.00C299.59,514.99 299.48,510.84 300.60,507.00C301.03,505.51 301.04,503.54 302.20,502.60C302.54,502.32 303.05,501.92 303.40,501.90C304.05,501.87 304.37,503.34 304.80,504.10C305.33,505.03 305.47,506.25 306.20,507.00C306.49,507.30 306.90,507.73 307.20,507.80C307.83,507.94 308.28,506.37 308.70,505.60C309.72,503.72 309.82,501.41 310.30,499.30C311.04,496.03 311.52,492.70 312.10,489.40C312.73,485.80 313.32,482.20 313.90,478.60C314.53,474.70 315.01,470.78 315.70,466.90C316.13,464.49 316.21,461.96 317.10,459.70C317.46,458.78 317.88,456.92 318.40,457.00C318.79,457.06 319.33,458.17 319.70,458.80C320.91,460.88 320.69,463.59 321.10,466.00C321.91,470.77 322.33,475.60 322.90,480.40C323.54,485.80 324.01,491.21 324.70,496.60C325.24,500.81 325.53,505.08 326.50,509.20C327.00,511.32 326.96,513.83 328.30,515.50C328.68,515.97 329.21,516.76 329.60,516.80C330.15,516.86 330.61,515.36 331.00,514.60C332.09,512.45 332.00,509.81 332.40,507.40C332.99,503.82 333.32,500.21 333.70,496.60C334.26,491.21 334.63,485.80 335.00,480.40C335.41,474.41 335.65,468.40 336.00,462.40C336.35,456.40 336.73,450.40 337.10,444.40C337.40,439.60 337.74,434.80 338.00,430.00C338.50,420.67 338.66,411.33 339.00,402.00C339.33,393.00 339.67,384.00 340.00,375.00C340.30,366.67 340.51,358.33 340.90,350.00C341.13,345.00 341.46,340.00 341.70,335.00C342.06,327.50 342.30,320.00 342.60,312.50C342.90,305.00 343.15,297.50 343.50,290.00C343.85,282.50 344.25,275.00 344.70,267.50C345.15,260.00 345.65,252.50 346.20,245.00C346.75,237.50 347.45,230.00 348.00,222.50C348.55,215.00 349.09,207.51 349.50,200.00C349.77,195.00 349.98,190.00 350.20,185.00C350.64,175.00 350.97,165.00 351.40,155.00C351.83,145.00 352.30,135.00 352.80,125.00C353.18,117.50 353.48,109.99 354.00,102.50C354.35,97.50 354.54,92.47 355.20,87.50C355.53,84.99 355.35,82.27 356.40,80.00C356.69,79.38 357.05,78.21 357.40,78.20C357.75,78.19 358.19,79.38 358.50,80.00C359.60,82.23 359.21,85.00 359.50,87.50C360.07,92.48 360.36,97.50 360.70,102.50C361.21,109.99 361.46,117.50 361.80,125.00C362.25,135.00 362.55,145.00 363.00,155.00C363.45,165.00 363.89,175.01 364.50,185.00C364.81,190.00 365.22,195.00 365.50,200.00C365.92,207.49 366.07,215.00 366.40,222.50C366.73,230.00 367.06,237.50 367.50,245.00C367.85,251.00 368.19,257.01 368.70,263.00C369.00,266.50 369.04,270.06 369.70,273.50C370.09,275.52 370.51,277.56 371.20,279.50C371.75,281.04 372.67,282.46 373.20,284.00C374.18,286.86 374.27,289.99 374.70,293.00C375.40,297.97 375.72,303.00 376.20,308.00C376.73,313.50 377.18,319.00 377.70,324.50C378.19,329.67 378.75,334.83 379.20,340.00C379.85,347.49 380.22,355.00 380.80,362.50C381.38,370.00 382.13,377.49 382.70,385.00C383.27,392.49 383.75,400.00 384.20,407.50C384.65,415.00 385.03,422.50 385.40,430.00C385.73,436.67 386.01,443.33 386.30,450.00C386.66,458.33 386.96,466.67 387.30,475.00C387.66,484.00 388.03,493.00 388.40,502.00C388.77,511.00 389.15,520.00 389.50,529.00C389.85,538.00 390.17,547.00 390.50,556.00C390.77,563.33 390.97,570.67 391.30,578.00C391.66,585.80 392.17,593.60 392.60,601.40C393.07,609.80 393.49,618.20 394.00,626.60C394.55,635.60 395.08,644.61 395.80,653.60C396.33,660.21 396.87,666.81 397.60,673.40C398.13,678.21 398.64,683.02 399.40,687.80C399.92,691.11 400.31,694.48 401.20,697.70C401.71,699.52 401.82,701.70 403.00,703.10C403.59,703.80 404.36,704.52 405.20,704.90C405.89,705.22 406.77,705.13 407.50,705.40C408.13,705.63 408.67,706.08 409.30,706.30C409.88,706.50 410.62,706.82 411.10,706.70C411.89,706.50 412.10,704.93 412.50,704.00C413.47,701.75 413.72,699.22 414.20,696.80C415.14,692.06 415.45,687.21 416.00,682.40C416.68,676.41 417.23,670.40 417.80,664.40C418.43,657.80 419.00,651.20 419.60,644.60C420.20,638.00 420.82,631.40 421.40,624.80C422.03,617.60 422.62,610.40 423.20,603.20C423.83,595.40 424.43,587.60 425.00,579.80C425.49,573.20 426.04,566.61 426.40,560.00C426.94,550.01 427.00,540.00 427.30,530.00C427.70,516.67 428.10,503.33 428.50,490.00C428.80,480.00 429.10,470.00 429.40,460.00C429.70,450.00 430.00,440.00 430.30,430.00C430.60,420.00 430.90,410.00 431.20,400.00C431.57,387.33 431.85,374.66 432.30,362.00C432.65,352.16 432.93,342.32 433.50,332.50C433.79,327.50 433.64,322.42 434.50,317.50C434.87,315.39 435.45,311.19 435.90,311.20C436.35,311.21 436.85,315.39 437.20,317.50C438.02,322.44 438.00,327.50 438.30,332.50C438.75,339.99 438.93,347.50 439.20,355.00C439.56,365.00 439.75,375.00 440.10,385.00C440.45,395.00 440.86,405.00 441.30,415.00C441.64,422.67 442.06,430.33 442.40,438.00C442.69,444.50 442.90,451.00 443.20,457.50C443.55,465.00 443.88,472.51 444.40,480.00C444.82,486.01 445.18,492.03 445.90,498.00C446.32,501.51 446.35,505.14 447.40,508.50C447.79,509.75 447.87,511.33 448.80,512.20C449.14,512.52 449.64,512.98 450.00,513.00C450.59,513.04 450.97,511.77 451.50,511.20C451.88,510.79 452.37,510.08 452.70,510.00C453.34,509.85 453.57,511.98 453.90,513.00C454.83,515.86 454.73,519.00 455.10,522.00C455.54,525.50 455.81,529.01 456.30,532.50C456.65,535.01 456.65,537.63 457.50,540.00C457.83,540.92 458.30,542.70 458.70,542.70C459.10,542.70 459.56,540.92 459.90,540.00C461.29,536.26 460.75,532.00 461.10,528.00C461.62,522.01 461.90,516.00 462.30,510.00C462.70,504.00 463.10,498.00 463.50,492.00C463.90,486.00 464.22,479.99 464.70,474.00C465.06,469.50 465.44,464.99 465.90,460.50C466.26,457.00 466.40,453.45 467.10,450.00C467.36,448.73 467.28,447.24 468.00,446.20C468.25,445.84 468.63,445.25 468.90,445.20C469.31,445.13 469.62,446.38 469.90,447.00C470.94,449.27 470.68,451.99 471.00,454.50C471.51,458.49 471.82,462.50 472.20,466.50C472.67,471.50 473.06,476.50 473.50,481.50C473.99,487.00 474.52,492.50 475.00,498.00C475.52,504.00 476.02,510.00 476.50,516.00C476.98,522.00 477.47,528.00 477.90,534.00C478.33,540.00 478.71,546.00 479.10,552.00C479.44,557.33 479.82,562.66 480.10,568.00C480.44,574.33 480.63,580.67 480.90,587.00C481.36,597.80 481.77,608.60 482.30,619.40C482.75,628.60 483.28,637.80 483.80,647.00C484.29,655.67 484.76,664.34 485.30,673.00C485.77,680.54 486.24,688.07 486.80,695.60C487.34,702.80 487.82,710.02 488.60,717.20C489.12,722.01 489.59,726.83 490.40,731.60C491.01,735.22 491.58,738.88 492.60,742.40C493.35,744.98 493.85,747.78 495.30,750.00C496.05,751.15 496.92,752.36 498.00,753.20C499.04,754.01 500.49,754.27 501.60,755.00C502.56,755.63 503.47,756.40 504.30,757.20C505.30,758.17 506.04,759.39 507.00,760.40C507.70,761.13 508.33,762.00 509.20,762.50C509.63,762.75 510.17,763.01 510.60,763.10C512.65,763.52 513.25,759.00 514.20,756.80C515.89,752.90 516.13,748.42 516.90,744.20C517.88,738.84 518.53,733.41 519.20,728.00C520.10,720.82 520.73,713.61 521.40,706.40C522.07,699.21 522.60,692.00 523.20,684.80C523.80,677.60 524.34,670.39 525.00,663.20C525.55,657.20 525.81,651.14 526.80,645.20C527.20,642.79 526.97,640.08 528.20,638.00C528.46,637.55 528.83,636.84 529.10,636.70C529.67,636.40 530.02,638.75 530.40,639.80C532.22,644.87 531.38,650.60 531.80,656.00C532.40,663.79 532.80,671.60 533.30,679.40C533.84,687.80 534.31,696.20 534.90,704.60C535.45,712.40 536.00,720.21 536.70,728.00C537.24,734.01 537.51,740.06 538.50,746.00C539.00,749.01 538.99,752.29 540.30,755.00C540.91,756.26 541.72,758.59 542.60,758.60C543.38,758.61 544.47,756.89 545.20,755.90C546.86,753.65 547.02,750.48 548.00,747.80C548.99,745.08 549.59,742.14 551.10,739.70C551.77,738.61 552.64,736.58 553.40,736.60C554.14,736.62 554.99,738.61 555.60,739.70C557.22,742.60 557.15,746.28 557.80,749.60C558.74,754.37 559.20,759.22 560.10,764.00C560.90,768.22 561.38,772.56 562.80,776.60C563.55,778.75 564.04,781.24 565.50,782.90C566.46,783.99 567.73,785.20 569.10,785.60C570.19,785.92 571.56,785.85 572.70,785.60C573.97,785.32 575.29,784.62 576.30,783.80C577.43,782.88 578.22,781.47 579.00,780.20C580.18,778.26 580.69,775.95 581.70,773.90C582.53,772.23 582.85,769.76 584.40,769.00C585.03,768.69 585.91,768.41 586.60,768.50C587.44,768.61 588.07,769.97 588.90,770.00C589.47,770.02 590.20,769.70 590.70,769.40C592.20,768.50 591.99,765.82 592.50,764.00C593.33,761.06 592.13,753.46 594.30,755.00C594.52,755.15 594.79,755.47 595.00,755.60C596.28,756.38 595.46,751.76 596.40,750.20C596.88,749.40 597.41,748.23 598.20,748.00C598.82,747.82 599.67,748.27 600.40,748.40C601.13,748.53 601.93,748.92 602.60,748.80C603.47,748.64 604.24,747.69 604.90,747.00C605.94,745.90 606.50,744.37 607.20,743.00C608.03,741.38 608.54,739.60 609.40,738.00C610.06,736.76 610.63,735.38 611.60,734.40C612.26,733.73 613.15,733.29 613.90,732.70C614.68,732.09 615.57,731.54 616.20,730.80C617.05,729.80 617.48,728.43 618.00,727.20C618.78,725.34 619.23,723.34 619.80,721.40C620.59,718.72 621.27,716.00 622.00,713.30C622.73,710.60 623.40,707.88 624.20,705.20C624.92,702.79 625.74,700.40 626.50,698.00C627.17,695.90 627.94,693.83 628.50,691.70C629.20,689.04 629.64,686.31 630.10,683.60C630.70,680.02 631.05,676.40 631.50,672.80C632.10,668.00 632.65,663.20 633.20,658.40C633.82,653.00 634.40,647.60 635.00,642.20C635.60,636.80 636.20,631.40 636.80,626.00C637.40,620.60 637.96,615.20 638.60,609.80C639.17,605.00 639.78,600.20 640.40,595.40C640.63,593.60 640.88,591.80 641.10,590.00C642.29,580.05 642.32,570.00 643.00,560.00C643.23,556.67 643.47,553.33 643.70,550.00C644.04,545.00 644.33,540.00 644.70,535.00C645.07,530.00 645.24,524.97 645.90,520.00C646.37,516.48 646.44,512.79 647.70,509.50C648.20,508.20 648.73,506.85 649.50,505.70C650.24,504.59 651.50,503.81 652.20,502.70C653.40,500.79 653.49,498.25 654.00,496.00C654.66,493.04 655.00,490.00 655.50,487.00C656.00,484.00 656.41,480.98 657.00,478.00C657.45,475.72 657.51,473.26 658.50,471.20C659.01,470.15 659.56,469.00 660.40,468.20C661.05,467.58 662.08,467.33 662.70,466.70C663.63,465.76 664.02,464.27 664.50,463.00C665.40,460.63 665.56,458.01 666.00,455.50C666.61,452.02 667.03,448.50 667.50,445.00C668.04,441.01 668.46,436.99 669.00,433.00C669.47,429.50 669.88,425.98 670.50,422.50C670.86,420.49 671.06,418.43 671.70,416.50C671.96,415.72 672.06,414.79 672.60,414.20C672.85,413.93 673.24,413.51 673.50,413.50C673.90,413.48 674.15,414.48 674.40,415.00C675.05,416.36 675.05,417.99 675.30,419.50C675.79,422.47 675.94,425.50 676.20,428.50C676.59,432.99 676.83,437.50 677.10,442.00C677.46,448.00 677.71,454.00 678.00,460.00C678.36,467.50 678.68,475.00 679.05,482.50C679.42,490.00 679.81,497.50 680.20,505.00C680.63,513.33 681.06,521.67 681.50,530.00C681.96,538.67 682.41,547.33 682.90,556.00C683.26,562.33 683.63,568.67 684.00,575.00C684.37,581.33 684.73,587.67 685.10,594.00C685.49,600.67 685.88,607.33 686.30,614.00C686.68,620.00 687.07,626.00 687.50,632.00C687.93,638.00 688.37,644.01 688.90,650.00C689.43,656.01 689.91,662.03 690.70,668.00C691.34,672.82 692.16,677.61 693.00,682.40C693.69,686.31 694.47,690.20 695.20,694.10C695.93,698.00 696.62,701.91 697.40,705.80C698.00,708.81 698.20,711.96 699.30,714.80C699.90,716.35 700.22,718.42 701.50,719.30C702.22,719.80 703.28,719.96 704.20,720.20C705.08,720.43 706.11,720.33 706.90,720.70C708.00,721.21 708.69,722.51 709.60,723.40C710.66,724.44 711.52,725.83 712.80,726.50C713.72,726.99 714.88,727.41 715.90,727.40C717.12,727.38 718.32,726.52 719.50,726.00C720.73,725.46 721.99,724.93 723.10,724.20C724.06,723.57 725.06,722.86 725.80,722.00C726.86,720.76 727.25,718.99 728.00,717.50C728.75,715.99 729.00,713.94 730.30,713.00C730.87,712.59 731.71,712.04 732.30,712.10C733.12,712.18 733.73,713.57 734.30,714.40C735.47,716.09 735.58,718.40 736.60,720.20C737.24,721.32 737.77,722.69 738.80,723.40C739.32,723.76 740.07,724.24 740.60,724.20C741.38,724.14 741.91,722.77 742.50,722.00C743.45,720.76 744.30,719.39 745.00,718.00C746.43,715.17 746.79,711.86 747.70,708.80C748.59,705.80 749.39,702.76 750.40,699.80C751.23,697.38 751.68,694.69 753.10,692.60C753.76,691.63 754.55,689.88 755.40,689.90C756.08,689.91 757.01,691.01 757.60,691.70C758.96,693.30 758.83,695.89 759.40,698.00C760.38,701.58 761.05,705.25 762.10,708.80C762.91,711.53 763.01,714.80 764.80,716.90C765.55,717.77 766.48,718.77 767.50,719.20C768.80,719.74 770.77,718.61 772.00,719.20C773.12,719.74 773.82,721.25 774.70,722.30C775.94,723.77 776.77,725.70 778.30,726.80C779.11,727.38 780.16,728.25 781.00,728.20C781.98,728.14 782.88,726.75 783.70,725.90C784.74,724.83 785.24,723.21 786.40,722.30C787.08,721.77 787.97,721.01 788.70,721.00C789.66,720.99 790.64,722.36 791.40,723.20C793.12,725.08 793.43,728.02 794.50,730.40C795.65,732.95 796.24,735.99 798.10,738.00C799.11,739.09 800.38,740.55 801.70,740.80C803.07,741.06 804.72,739.92 806.20,739.40C807.41,738.97 808.81,738.73 809.80,738.00C811.03,737.08 811.75,735.40 812.50,734.00C813.96,731.27 814.40,728.03 815.20,725.00C816.29,720.85 817.00,716.60 817.90,712.40C818.80,708.20 819.67,703.99 820.60,699.80C821.47,695.89 822.40,692.00 823.30,688.10C824.20,684.20 824.96,680.26 826.00,676.40C826.81,673.38 827.14,670.07 828.70,667.40C829.45,666.12 830.27,664.72 831.40,663.80C832.41,662.98 833.99,662.82 835.00,662.00C836.13,661.08 836.95,659.67 837.70,658.40C839.54,655.25 839.59,651.22 840.40,647.60C841.46,642.84 841.83,637.91 843.10,633.20C843.66,631.12 844.05,628.92 845.00,627.00C845.70,625.59 846.28,623.72 847.60,623.00C848.18,622.68 848.97,622.35 849.60,622.40C850.47,622.46 851.18,623.50 852.00,624.00C852.97,624.58 853.99,625.09 855.00,625.60C855.99,626.09 857.04,626.46 858.00,627.00C859.05,627.58 859.93,628.49 861.00,629.00C861.94,629.45 862.98,629.91 864.00,630.00C864.98,630.09 866.04,629.47 867.00,629.60C868.05,629.75 869.15,630.36 870.00,631.00C871.39,632.04 872.13,633.93 873.00,635.50C874.30,637.84 875.14,640.46 876.00,643.00C877.32,646.90 878.09,650.98 879.00,655.00C880.13,659.97 881.03,664.99 882.00,670.00C883.03,675.33 882.99,681.01 885.00,686.00C885.83,688.06 886.88,690.07 888.00,692.00C889.20,694.08 890.65,696.01 892.00,698.00C892.99,699.47 893.59,701.41 895.00,702.40C895.59,702.82 896.36,703.36 897.00,703.40C898.09,703.47 899.04,701.84 900.00,701.00C901.42,699.76 902.47,698.06 904.00,697.00C905.21,696.16 906.78,695.83 908.00,695.00C909.09,694.26 910.17,693.39 911.00,692.40C912.68,690.42 913.12,687.51 914.00,685.00C915.25,681.42 915.89,677.63 917.00,674.00C917.92,670.98 918.05,667.41 920.00,665.00C920.58,664.28 921.33,663.13 922.00,663.00C923.00,662.80 924.07,664.94 925.00,666.00C926.10,667.25 926.95,670.11 928.00,670.00C928.83,669.91 929.89,668.08 930.60,667.00C932.26,664.46 932.11,660.97 933.00,658.00C933.91,654.97 934.05,651.41 936.00,649.00C936.58,648.28 937.31,647.13 938.00,647.00C938.96,646.81 940.13,649.67 941.00,649.60C941.95,649.52 942.73,647.25 943.40,646.00C945.62,641.88 945.14,636.67 946.00,632.00C946.80,627.67 946.62,622.98 948.40,619.00C949.02,617.62 949.84,615.03 950.60,615.00C951.37,614.97 952.30,617.62 953.00,619.00C954.42,621.81 954.49,625.26 956.00,628.00C956.98,629.78 958.50,633.13 959.60,633.00C960.62,632.88 961.61,629.73 962.40,628.00C963.97,624.57 964.15,620.58 965.40,617.00C966.28,614.49 966.45,611.22 968.40,609.60C969.23,608.91 970.43,607.97 971.40,608.00C972.43,608.03 973.59,609.20 974.40,610.00C976.52,612.08 976.26,615.97 977.00,619.00C978.52,625.22 978.97,631.67 980.00,638.00C980.98,644.00 981.85,650.03 983.00,656.00C983.91,660.68 984.11,665.65 986.00,670.00C986.68,671.58 987.25,673.38 988.40,674.60C989.36,675.62 990.88,676.10 992.00,677.00C993.47,678.17 994.53,679.85 996.00,681.00C997.52,682.19 999.29,683.07 1001.00,684.00C1002.31,684.71 1003.86,685.11 1005.00,686.00C1006.84,687.43 1007.51,690.12 1009.00,692.00C1010.23,693.55 1011.42,695.26 1013.00,696.40C1014.19,697.25 1015.72,697.65 1017.00,698.40C1018.61,699.34 1019.99,701.55 1021.60,701.60C1023.01,701.65 1024.53,700.13 1026.00,699.40C1027.33,698.73 1028.59,697.79 1030.00,697.40C1031.27,697.05 1032.78,696.67 1034.00,697.00C1035.09,697.29 1036.15,698.19 1037.00,699.00C1038.38,700.30 1038.86,702.43 1040.00,704.00C1040.91,705.26 1041.71,706.80 1043.00,707.60C1043.77,708.08 1044.81,708.67 1045.60,708.60C1046.68,708.50 1047.54,706.93 1048.40,706.00C1049.79,704.50 1050.48,702.33 1052.00,701.00C1052.89,700.22 1053.90,699.43 1055.00,699.00C1055.93,698.63 1057.12,698.17 1058.00,698.40C1058.94,698.65 1059.67,699.80 1060.40,700.60C1061.59,701.90 1062.02,704.01 1063.40,705.00C1064.40,705.72 1065.76,706.29 1067.00,706.40C1067.97,706.49 1069.00,706.13 1070.00,706.00C1071.00,705.87 1072.21,705.30 1073.00,705.60C1074.03,705.99 1074.41,707.83 1075.00,709.00C1076.43,711.81 1076.70,715.13 1078.00,718.00C1078.87,719.92 1079.45,722.32 1081.00,723.60C1082.07,724.48 1083.64,725.35 1085.00,725.40C1086.31,725.45 1087.83,724.71 1089.00,724.00C1090.65,723.01 1091.59,720.99 1093.00,719.60C1094.27,718.34 1095.37,716.35 1097.00,716.00C1097.91,715.80 1099.03,715.99 1100.00,716.20C1101.04,716.43 1102.07,717.49 1103.00,717.40C1104.10,717.29 1105.07,715.87 1106.00,715.00C1106.86,714.20 1107.49,712.47 1108.40,712.40C1109.18,712.34 1110.22,713.37 1111.00,714.00C1112.42,715.15 1113.27,718.59 1114.40,718.40C1115.27,718.25 1116.24,716.20 1117.00,715.00C1118.35,712.87 1118.83,710.24 1120.00,708.00C1120.79,706.49 1121.27,704.53 1122.60,703.60C1123.28,703.13 1124.28,702.52 1125.00,702.60C1125.94,702.70 1126.73,704.12 1127.40,705.00C1129.06,707.18 1129.16,710.32 1130.00,713.00C1131.04,716.32 1131.38,719.95 1133.00,723.00C1133.74,724.39 1134.52,727.09 1135.60,727.00C1136.31,726.94 1137.27,725.73 1138.00,725.00C1139.17,723.83 1139.83,722.17 1141.00,721.00C1141.90,720.10 1142.87,719.10 1144.00,718.60C1145.19,718.07 1146.75,718.43 1148.00,718.00C1149.44,717.50 1150.72,716.48 1152.00,715.60C1153.40,714.63 1154.52,713.22 1156.00,712.40C1157.06,711.81 1158.30,710.97 1159.40,711.00C1160.64,711.04 1162.00,712.12 1163.00,713.00C1164.41,714.24 1165.13,716.27 1166.00,718.00C1167.28,720.53 1167.63,723.53 1169.00,726.00C1169.86,727.54 1170.61,729.47 1172.00,730.40C1173.09,731.13 1174.79,730.96 1176.00,731.60C1177.11,732.19 1178.14,733.08 1179.00,734.00C1180.31,735.39 1181.00,737.33 1182.00,739.00C1183.00,740.67 1183.69,742.61 1185.00,744.00C1185.86,744.92 1186.87,745.90 1188.00,746.40C1189.19,746.93 1190.66,746.90 1192.00,747.00C1193.33,747.10 1194.90,746.53 1196.00,747.00C1197.37,747.59 1198.11,749.60 1199.00,751.00C1200.20,752.88 1200.76,755.16 1202.00,757.00C1203.13,758.67 1204.48,760.27 1206.00,761.60C1207.22,762.66 1208.55,763.72 1210.00,764.40C1211.24,764.98 1212.71,765.69 1214.00,765.60C1215.38,765.50 1216.79,764.44 1218.00,763.60C1219.53,762.54 1220.70,760.97 1222.00,759.60C1223.23,758.30 1224.21,756.71 1225.60,755.60C1226.35,755.00 1227.20,754.06 1228.00,754.00C1229.00,753.93 1230.07,755.25 1231.00,756.00C1232.10,756.88 1232.84,758.23 1234.00,759.00C1234.90,759.60 1235.96,760.24 1237.00,760.40C1238.28,760.60 1239.69,759.52 1241.00,759.60C1242.36,759.69 1243.66,760.55 1245.00,761.00C1246.66,761.56 1248.31,762.51 1250.00,762.60C1251.64,762.69 1253.33,761.93 1255.00,761.60C1256.67,761.27 1258.32,760.80 1260.00,760.60C1261.65,760.40 1263.41,760.80 1265.00,760.40C1266.39,760.05 1267.61,759.02 1269.00,758.60C1269.97,758.31 1271.07,757.85 1272.00,758.00C1273.10,758.18 1274.02,759.31 1275.00,760.00C1276.36,760.96 1277.53,762.27 1279.00,763.00C1280.52,763.76 1282.45,763.68 1284.00,764.40C1285.43,765.06 1286.71,766.08 1288.00,767.00C1288.68,767.48 1289.28,768.14 1290.00,768.50C1291.45,769.23 1293.34,768.81 1295.00,769.00C1297.00,769.22 1299.01,769.84 1301.00,769.75C1302.34,769.69 1303.67,769.35 1305.00,769.10C1306.34,768.85 1307.66,768.28 1309.00,768.25C1310.16,768.23 1311.36,768.47 1312.50,768.75C1313.52,769.00 1314.48,769.49 1315.50,769.75C1316.16,769.92 1316.84,770.15 1317.50,770.15C1318.34,770.15 1319.26,769.88 1320.00,769.50C1321.01,768.98 1321.60,767.75 1322.50,767.00C1323.28,766.35 1324.06,765.59 1325.00,765.25C1325.55,765.05 1326.17,764.90 1326.75,764.90C1327.51,764.90 1328.28,765.22 1329.00,765.50C1330.07,765.91 1330.95,766.78 1332.00,767.25C1332.96,767.68 1333.97,768.02 1335.00,768.25C1335.49,768.36 1336.00,768.42 1336.50,768.50"/>
</g>
<g stroke="#000" stroke-width="1" shape-rendering="crispEdges" fill="none">
<rect x="136.5" y="42.5" width="1200.0" height="805.0"/>
<line x1="136.5" y1="847.5" x2="136.5" y2="853.0"/>
<line x1="336.5" y1="847.5" x2="336.5" y2="853.0"/>
<line x1="536.5" y1="847.5" x2="536.5" y2="853.0"/>
<line x1="736.5" y1="847.5" x2="736.5" y2="853.0"/>
<line x1="936.5" y1="847.5" x2="936.5" y2="853.0"/>
<line x1="1136.5" y1="847.5" x2="1136.5" y2="853.0"/>
<line x1="1336.5" y1="847.5" x2="1336.5" y2="853.0"/>
<line x1="131.0" y1="810.5" x2="136.5" y2="810.5"/>
<line x1="131.0" y1="718.5" x2="136.5" y2="718.5"/>
<line x1="131.0" y1="626.5" x2="136.5" y2="626.5"/>
<line x1="131.0" y1="534.5" x2="136.5" y2="534.5"/>
<line x1="131.0" y1="442.5" x2="136.5" y2="442.5"/>
<line x1="131.0" y1="350.5" x2="136.5" y2="350.5"/>
<line x1="131.0" y1="257.5" x2="136.5" y2="257.5"/>
<line x1="131.0" y1="165.5" x2="136.5" y2="165.5"/>
<line x1="131.0" y1="73.5" x2="136.5" y2="73.5"/>
</g>
<g>
<text class="xt" transform="translate(136.9,894.4) scale(1,1.025)">0</text>
<text class="xt" transform="translate(336.9,894.4) scale(1,1.025)">5</text>
<text class="xt" textLength="60.6" transform="translate(536.4,894.0) scale(1,1.025)">10</text>
<text class="xt" textLength="60.6" transform="translate(736.4,894.0) scale(1,1.025)">15</text>
<text class="xt" textLength="60.6" transform="translate(936.4,894.0) scale(1,1.025)">20</text>
<text class="xt" textLength="60.6" transform="translate(1136.4,894.0) scale(1,1.025)">25</text>
<text class="xt" textLength="60.6" transform="translate(1336.4,894.0) scale(1,1.025)">30</text>
<text class="yt" transform="translate(126.8,829.00) scale(1,1.025)">0</text>
<text class="yt" transform="translate(126.8,737.00) scale(1,1.025)">1</text>
<text class="yt" transform="translate(126.8,645.00) scale(1,1.025)">2</text>
<text class="yt" transform="translate(126.8,553.00) scale(1,1.025)">3</text>
<text class="yt" transform="translate(126.8,461.00) scale(1,1.025)">4</text>
<text class="yt" transform="translate(126.8,369.00) scale(1,1.025)">5</text>
<text class="yt" transform="translate(126.8,276.00) scale(1,1.025)">6</text>
<text class="yt" transform="translate(126.8,184.00) scale(1,1.025)">7</text>
<text class="yt" transform="translate(126.8,92.00) scale(1,1.025)">8</text>
</g>
<text id="xl" class="lab" x="737" y="955.7" textLength="349">Energy (eV)</text>
<text id="yl" class="lab" textLength="789" transform="translate(77,445.5) rotate(-90)">Dielec. function(Imag part)</text>
<rect x="1128.5" y="60.5" width="190" height="171" rx="7" ry="7" fill="#fff" fill-opacity="0.8" stroke="#cccccc" stroke-opacity="0.8" stroke-width="1.39"/>
<line x1="1141" y1="89.5" x2="1216" y2="89.5" stroke="#e41a1c" stroke-width="3"/>
<text class="leg"><tspan class="it" x="1243.9" y="101.0">ε</tspan><tspan class="sub" x="1263" y="107.0">2</tspan><tspan class="it" x="1280" y="101.0">x</tspan></text>
<line x1="1141" y1="142.5" x2="1216" y2="142.5" stroke="#377eb8" stroke-width="3"/>
<text class="leg"><tspan class="it" x="1243.9" y="154.25">ε</tspan><tspan class="sub" x="1263" y="160.25">2</tspan><tspan class="it" x="1280" y="154.25">y</tspan></text>
<line x1="1141" y1="196.5" x2="1216" y2="196.5" stroke="#4daf4a" stroke-width="3"/>
<text class="leg"><tspan class="it" x="1243.9" y="208.25">ε</tspan><tspan class="sub" x="1263" y="214.25">2</tspan><tspan class="it" x="1280" y="208.25">z</tspan></text>
</svg></body></html>
